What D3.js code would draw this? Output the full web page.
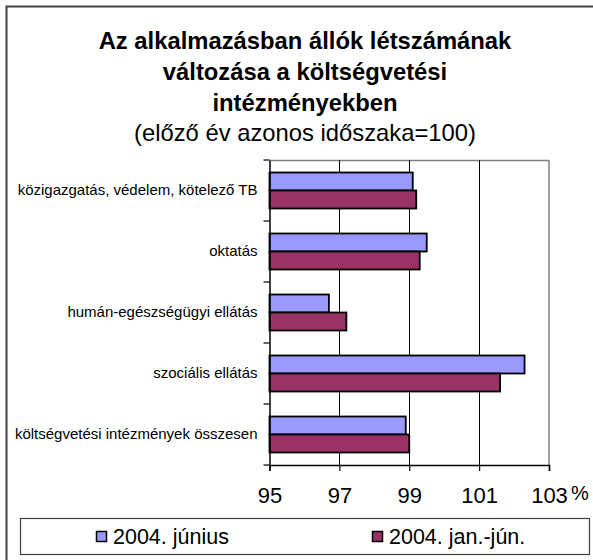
<!DOCTYPE html>
<html>
<head>
<meta charset="utf-8">
<script src="https://cdn.jsdelivr.net/npm/d3@7"></script>
<style>
  html, body { margin: 0; padding: 0; background: #fff; }
  svg { display: block; font-family: "Liberation Sans", Arial, sans-serif; }
</style>
</head>
<body>
<svg id="chart" width="593" height="560"></svg>
<script>
const categories = [
  "közigazgatás, védelem, kötelező TB",
  "oktatás",
  "humán-egészségügyi ellátás",
  "szociális ellátás",
  "költségvetési intézmények összesen"
];
const seriesNames = ["2004. június", "2004. jan.-jún."];
const juniusValues = [99.1, 99.5, 96.7, 102.3, 98.9];
const janJunValues = [99.2, 99.3, 97.2, 101.6, 99.0];
const tickValues = [95, 97, 99, 101, 103];
const titleLines = [
  "Az alkalmazásban állók létszámának",
  "változása a költségvetési",
  "intézményekben"
];
const subtitle = "(előző év azonos időszaka=100)";
const colors = ["#9999FF", "#993366"];

(function () {
const svg = d3.select("#chart");

// outer frame
svg.append("rect").attr("x", 6.5).attr("y", 6.5).attr("width", 620).attr("height", 620)
  .attr("fill", "none").attr("stroke", "#404040").attr("stroke-width", 2);

// title
const titleY = [49, 80, 111];
titleLines.forEach((t, i) => {
  svg.append("text").attr("x", 305).attr("y", titleY[i]).attr("text-anchor", "middle")
    .attr("font-size", 23.8).attr("font-weight", "bold").attr("fill", "#000").text(t);
});
svg.append("text").attr("x", 305).attr("y", 141).attr("text-anchor", "middle")
  .attr("font-size", 23.8).attr("fill", "#000").text(subtitle);

const pLeft = 269.5, pRight = 549, pTop = 160, pBottom = 465;
const x = d3.scaleLinear().domain([95, 103]).range([pLeft, pRight]);
const y = d3.scaleBand().domain(categories).range([pTop, pBottom]).padding(0);
const sub = d3.scaleBand().domain(seriesNames).range([12.5, 48.5]).padding(0);

const data = categories.map((c, i) => ({ cat: c, vals: [juniusValues[i], janJunValues[i]] }));

// plot border (gray top & right)
svg.append("line").attr("x1", pLeft).attr("x2", pRight).attr("y1", pTop + 0.5).attr("y2", pTop + 0.5)
  .attr("stroke", "#808080").attr("stroke-width", 1.5);
svg.append("line").attr("x1", pRight).attr("x2", pRight).attr("y1", pTop).attr("y2", pBottom)
  .attr("stroke", "#808080").attr("stroke-width", 1.5);

// gridlines
svg.append("g").selectAll("line").data(tickValues.slice(1, -1)).join("line")
  .attr("x1", d => Math.round(x(d)) + 0.5).attr("x2", d => Math.round(x(d)) + 0.5)
  .attr("y1", pTop).attr("y2", pBottom).attr("stroke", "#000").attr("stroke-width", 1);

// bars
const groups = svg.append("g").selectAll("g").data(data).join("g")
  .attr("transform", d => `translate(0,${y(d.cat)})`);
groups.selectAll("rect").data(d => d.vals.map((v, j) => ({ v, s: seriesNames[j], j }))).join("rect")
  .attr("x", x(95))
  .attr("y", d => sub(d.s))
  .attr("width", d => x(d.v) - x(95))
  .attr("height", sub.bandwidth())
  .attr("fill", d => colors[d.j])
  .attr("stroke", "#000").attr("stroke-width", 1.8);

// x axis
const xAxis = d3.axisBottom(x).tickValues(tickValues).tickSize(6).tickPadding(16).tickFormat(d3.format("d"));
const gx = svg.append("g").attr("transform", `translate(0,${pBottom})`).call(xAxis);
gx.select(".domain").attr("stroke", "#000").attr("stroke-width", 1.5);
gx.selectAll(".tick line").attr("stroke", "#000").attr("stroke-width", 1.2);
gx.selectAll(".tick text").attr("font-size", 22).attr("fill", "#000")
  .attr("font-family", "Liberation Sans, Arial, sans-serif").attr("dy", "0.71em");
svg.append("text").attr("x", 571).attr("y", 500).attr("font-size", 20).attr("fill", "#000").text("%");

// y axis
const yAxis = d3.axisLeft(y).tickSize(0).tickPadding(12);
const gy = svg.append("g").attr("transform", `translate(${pLeft},0)`).call(yAxis);
gy.select(".domain").attr("stroke", "#000").attr("stroke-width", 1.5);
gy.selectAll(".tick text").attr("font-size", 15).attr("fill", "#000")
  .attr("font-family", "Liberation Sans, Arial, sans-serif");
// boundary ticks
const bounds = categories.map(c => y(c)).concat([pBottom]);
svg.append("g").selectAll("line").data(bounds).join("line")
  .attr("x1", pLeft - 6).attr("x2", pLeft).attr("y1", d => d).attr("y2", d => d)
  .attr("stroke", "#000").attr("stroke-width", 1.2);

// legend
svg.append("rect").attr("x", 20.5).attr("y", 518.5).attr("width", 569).attr("height", 36)
  .attr("fill", "#fff").attr("stroke", "#404040").attr("stroke-width", 1.2);
const legX = [96, 372];
const leg = svg.append("g").selectAll("g").data(seriesNames).join("g")
  .attr("transform", (d, i) => `translate(${legX[i]},531)`);
leg.append("rect").attr("x", 0.5).attr("y", 0.5).attr("width", 10).attr("height", 10)
  .attr("fill", (d, i) => colors[i]).attr("stroke", "#000").attr("stroke-width", 1.5);
leg.append("text").attr("x", 17).attr("y", 13).attr("font-size", 21.5).attr("fill", "#000").text(d => d);
})();
</script>
</body>
</html>
